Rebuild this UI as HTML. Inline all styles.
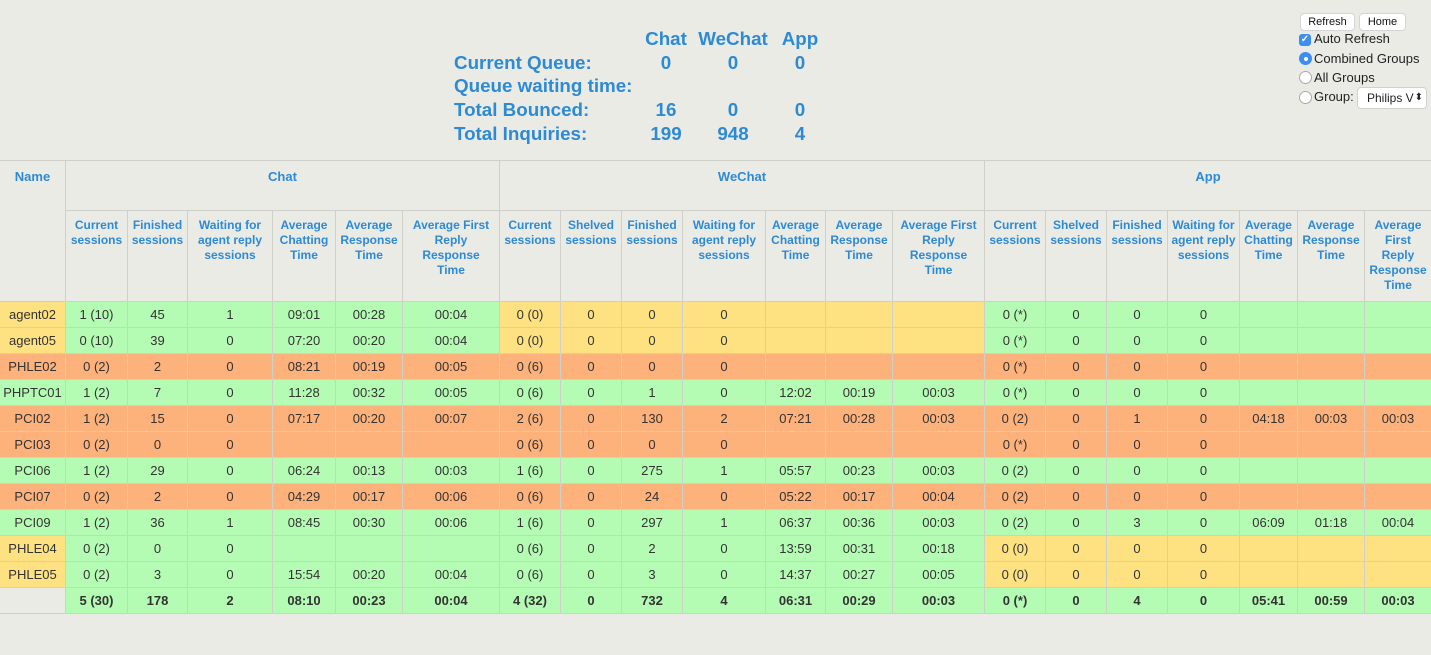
<!DOCTYPE html>
<html><head><meta charset="utf-8"><style>
body{margin:0;width:1431px;height:655px;background:#ebebe6;font-family:"Liberation Sans",Arial,sans-serif;position:relative;overflow:hidden}
.s{position:absolute;color:#2d8ad4;font-weight:bold;font-size:18.8px;line-height:23.6px;white-space:nowrap}
.v{position:absolute;width:80px;text-align:center;color:#2d8ad4;font-weight:bold;font-size:18.8px;line-height:23.6px}
.grid{position:absolute;left:0;top:160px;width:1431px;padding:1px 0;background:#d0d0cb;display:grid;gap:1px;
grid-template-columns:65px 61px 59px 84px 62px 66px 96px 60px 60px 60px 82px 59px 66px 91px 60px 60px 60px 71px 57px 66px 66px;
grid-template-rows:49px 90px repeat(12,25px)}
.grid>div{display:flex;align-items:center;justify-content:center;text-align:center;font-size:13px;color:#333;white-space:nowrap;overflow:hidden}
.grid>div.h{background:#ebebe6;color:#2d8ad4;font-weight:bold;align-items:flex-start;line-height:15px}
.h1{font-size:13px!important;padding-top:8px}
.h2{font-size:12px!important;padding-top:7px}
.g{background:#b4fcb3}.o{background:#fdb17b}.y{background:#fee282}.b{background:#ebebe6}
.t{font-weight:bold}
.btn{position:absolute;top:13px;height:16px;background:#fff;border:1px solid #d4d4d4;border-radius:4px;font-size:11px;line-height:16px;text-align:center;color:#111}
.lab{position:absolute;left:1314px;font-size:13px;color:#222;line-height:16px}
.rad{position:absolute;left:1299px;width:11px;height:11px;border:1px solid #aaa;border-radius:50%;background:#fff}
</style></head><body>
<div class="v" style="left:626px;top:27.2px">Chat</div>
<div class="v" style="left:693px;top:27.2px">WeChat</div>
<div class="v" style="left:760px;top:27.2px">App</div>
<div class="s" style="left:454px;top:50.8px">Current Queue:</div>
<div class="v" style="left:626px;top:50.8px">0</div>
<div class="v" style="left:693px;top:50.8px">0</div>
<div class="v" style="left:760px;top:50.8px">0</div>
<div class="s" style="left:454px;top:74.4px">Queue waiting time:</div>
<div class="s" style="left:454px;top:98px">Total Bounced:</div>
<div class="v" style="left:626px;top:98px">16</div>
<div class="v" style="left:693px;top:98px">0</div>
<div class="v" style="left:760px;top:98px">0</div>
<div class="s" style="left:454px;top:121.6px">Total Inquiries:</div>
<div class="v" style="left:626px;top:121.6px">199</div>
<div class="v" style="left:693px;top:121.6px">948</div>
<div class="v" style="left:760px;top:121.6px">4</div>

<div class="btn" style="left:1300px;width:53px">Refresh</div>
<div class="btn" style="left:1359px;width:45px">Home</div>
<div style="position:absolute;left:1299px;top:34px;width:12px;height:12px;background:#3b8ef2;border-radius:3px;color:#fff;font-size:10px;line-height:12px;text-align:center;font-weight:bold">✓</div>
<div class="lab" style="top:31px">Auto Refresh</div>
<div class="rad" style="top:52px;background:#3b8ef2;border-color:#3b8ef2"><div style="position:absolute;left:3.5px;top:3.5px;width:4px;height:4px;border-radius:50%;background:#fff"></div></div>
<div class="lab" style="top:51px">Combined Groups</div>
<div class="rad" style="top:71px"></div>
<div class="lab" style="top:70px">All Groups</div>
<div class="rad" style="top:91px"></div>
<div class="lab" style="top:89px">Group:</div>
<div style="position:absolute;left:1357px;top:87px;width:68px;height:20px;background:#fff;border:1px solid #d0d0d0;border-radius:4px;font-size:12px;line-height:20px;color:#222;overflow:hidden"><span style="position:absolute;left:9px">Philips V</span><span style="position:absolute;right:3px;font-size:10px">⬍</span></div>

<div class="grid">
<div class="h h1" style="grid-row:1/3">Name</div>
<div class="h h1" style="grid-column:span 6">Chat</div>
<div class="h h1" style="grid-column:span 7">WeChat</div>
<div class="h h1" style="grid-column:span 7">App</div>
<div class="h h2">Current<br>sessions</div><div class="h h2">Finished<br>sessions</div><div class="h h2">Waiting for<br>agent reply<br>sessions</div><div class="h h2">Average<br>Chatting<br>Time</div><div class="h h2">Average<br>Response<br>Time</div><div class="h h2">Average First<br>Reply<br>Response<br>Time</div>
<div class="h h2">Current<br>sessions</div><div class="h h2">Shelved<br>sessions</div><div class="h h2">Finished<br>sessions</div><div class="h h2">Waiting for<br>agent reply<br>sessions</div><div class="h h2">Average<br>Chatting<br>Time</div><div class="h h2">Average<br>Response<br>Time</div><div class="h h2">Average First<br>Reply<br>Response<br>Time</div>
<div class="h h2">Current<br>sessions</div><div class="h h2">Shelved<br>sessions</div><div class="h h2">Finished<br>sessions</div><div class="h h2">Waiting for<br>agent reply<br>sessions</div><div class="h h2">Average<br>Chatting<br>Time</div><div class="h h2">Average<br>Response<br>Time</div><div class="h h2">Average<br>First<br>Reply<br>Response<br>Time</div>

<div class="y">agent02</div><div class="g">1 (10)</div><div class="g">45</div><div class="g">1</div><div class="g">09:01</div><div class="g">00:28</div><div class="g">00:04</div>
<div class="y">0 (0)</div><div class="y">0</div><div class="y">0</div><div class="y">0</div><div class="y"></div><div class="y"></div><div class="y"></div>
<div class="g">0 (*)</div><div class="g">0</div><div class="g">0</div><div class="g">0</div><div class="g"></div><div class="g"></div><div class="g"></div>

<div class="y">agent05</div><div class="g">0 (10)</div><div class="g">39</div><div class="g">0</div><div class="g">07:20</div><div class="g">00:20</div><div class="g">00:04</div>
<div class="y">0 (0)</div><div class="y">0</div><div class="y">0</div><div class="y">0</div><div class="y"></div><div class="y"></div><div class="y"></div>
<div class="g">0 (*)</div><div class="g">0</div><div class="g">0</div><div class="g">0</div><div class="g"></div><div class="g"></div><div class="g"></div>

<div class="o">PHLE02</div><div class="o">0 (2)</div><div class="o">2</div><div class="o">0</div><div class="o">08:21</div><div class="o">00:19</div><div class="o">00:05</div>
<div class="o">0 (6)</div><div class="o">0</div><div class="o">0</div><div class="o">0</div><div class="o"></div><div class="o"></div><div class="o"></div>
<div class="o">0 (*)</div><div class="o">0</div><div class="o">0</div><div class="o">0</div><div class="o"></div><div class="o"></div><div class="o"></div>

<div class="g">PHPTC01</div><div class="g">1 (2)</div><div class="g">7</div><div class="g">0</div><div class="g">11:28</div><div class="g">00:32</div><div class="g">00:05</div>
<div class="g">0 (6)</div><div class="g">0</div><div class="g">1</div><div class="g">0</div><div class="g">12:02</div><div class="g">00:19</div><div class="g">00:03</div>
<div class="g">0 (*)</div><div class="g">0</div><div class="g">0</div><div class="g">0</div><div class="g"></div><div class="g"></div><div class="g"></div>

<div class="o">PCI02</div><div class="o">1 (2)</div><div class="o">15</div><div class="o">0</div><div class="o">07:17</div><div class="o">00:20</div><div class="o">00:07</div>
<div class="o">2 (6)</div><div class="o">0</div><div class="o">130</div><div class="o">2</div><div class="o">07:21</div><div class="o">00:28</div><div class="o">00:03</div>
<div class="o">0 (2)</div><div class="o">0</div><div class="o">1</div><div class="o">0</div><div class="o">04:18</div><div class="o">00:03</div><div class="o">00:03</div>

<div class="o">PCI03</div><div class="o">0 (2)</div><div class="o">0</div><div class="o">0</div><div class="o"></div><div class="o"></div><div class="o"></div>
<div class="o">0 (6)</div><div class="o">0</div><div class="o">0</div><div class="o">0</div><div class="o"></div><div class="o"></div><div class="o"></div>
<div class="o">0 (*)</div><div class="o">0</div><div class="o">0</div><div class="o">0</div><div class="o"></div><div class="o"></div><div class="o"></div>

<div class="g">PCI06</div><div class="g">1 (2)</div><div class="g">29</div><div class="g">0</div><div class="g">06:24</div><div class="g">00:13</div><div class="g">00:03</div>
<div class="g">1 (6)</div><div class="g">0</div><div class="g">275</div><div class="g">1</div><div class="g">05:57</div><div class="g">00:23</div><div class="g">00:03</div>
<div class="g">0 (2)</div><div class="g">0</div><div class="g">0</div><div class="g">0</div><div class="g"></div><div class="g"></div><div class="g"></div>

<div class="o">PCI07</div><div class="o">0 (2)</div><div class="o">2</div><div class="o">0</div><div class="o">04:29</div><div class="o">00:17</div><div class="o">00:06</div>
<div class="o">0 (6)</div><div class="o">0</div><div class="o">24</div><div class="o">0</div><div class="o">05:22</div><div class="o">00:17</div><div class="o">00:04</div>
<div class="o">0 (2)</div><div class="o">0</div><div class="o">0</div><div class="o">0</div><div class="o"></div><div class="o"></div><div class="o"></div>

<div class="g">PCI09</div><div class="g">1 (2)</div><div class="g">36</div><div class="g">1</div><div class="g">08:45</div><div class="g">00:30</div><div class="g">00:06</div>
<div class="g">1 (6)</div><div class="g">0</div><div class="g">297</div><div class="g">1</div><div class="g">06:37</div><div class="g">00:36</div><div class="g">00:03</div>
<div class="g">0 (2)</div><div class="g">0</div><div class="g">3</div><div class="g">0</div><div class="g">06:09</div><div class="g">01:18</div><div class="g">00:04</div>

<div class="y">PHLE04</div><div class="g">0 (2)</div><div class="g">0</div><div class="g">0</div><div class="g"></div><div class="g"></div><div class="g"></div>
<div class="g">0 (6)</div><div class="g">0</div><div class="g">2</div><div class="g">0</div><div class="g">13:59</div><div class="g">00:31</div><div class="g">00:18</div>
<div class="y">0 (0)</div><div class="y">0</div><div class="y">0</div><div class="y">0</div><div class="y"></div><div class="y"></div><div class="y"></div>

<div class="y">PHLE05</div><div class="g">0 (2)</div><div class="g">3</div><div class="g">0</div><div class="g">15:54</div><div class="g">00:20</div><div class="g">00:04</div>
<div class="g">0 (6)</div><div class="g">0</div><div class="g">3</div><div class="g">0</div><div class="g">14:37</div><div class="g">00:27</div><div class="g">00:05</div>
<div class="y">0 (0)</div><div class="y">0</div><div class="y">0</div><div class="y">0</div><div class="y"></div><div class="y"></div><div class="y"></div>

<div class="b"></div><div class="g t">5 (30)</div><div class="g t">178</div><div class="g t">2</div><div class="g t">08:10</div><div class="g t">00:23</div><div class="g t">00:04</div>
<div class="g t">4 (32)</div><div class="g t">0</div><div class="g t">732</div><div class="g t">4</div><div class="g t">06:31</div><div class="g t">00:29</div><div class="g t">00:03</div>
<div class="g t">0 (*)</div><div class="g t">0</div><div class="g t">4</div><div class="g t">0</div><div class="g t">05:41</div><div class="g t">00:59</div><div class="g t">00:03</div>
</div>
</body></html>
